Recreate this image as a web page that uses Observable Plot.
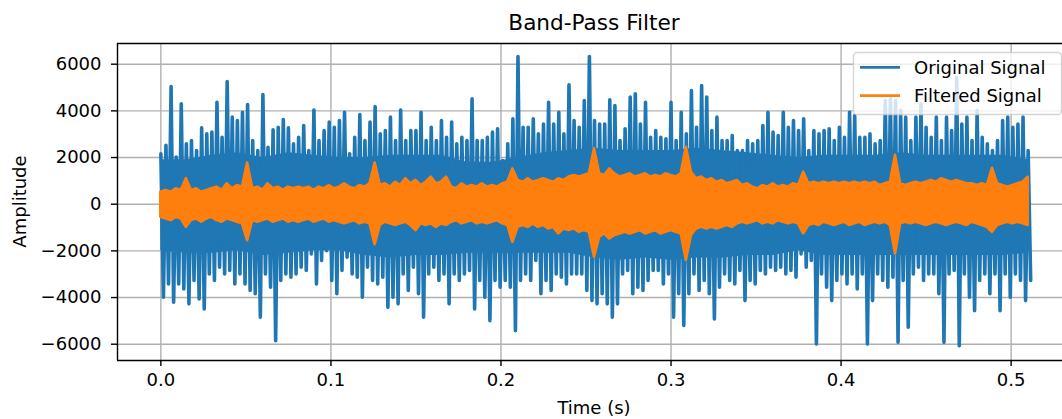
<!DOCTYPE html>
<html><head><meta charset="utf-8">
<script src="https://cdn.jsdelivr.net/npm/d3@7"></script>
<script src="https://cdn.jsdelivr.net/npm/@observablehq/plot@0.6"></script>
<style>
html,body{margin:0;padding:0;background:#fff;overflow:hidden;}
#chart{width:1062px;height:419px;overflow:hidden;position:relative;}
#chart svg{display:block;max-width:none !important;width:1080px !important;height:419px !important;}
</style></head><body><div id="chart"></div>
<script>
const title = "Band-Pass Filter";
const xLabel = "Time (s)";
const yLabel = "Amplitude";
const seriesNames = ["Original Signal", "Filtered Signal"];
const seriesColors = ["#1f77b4", "#ff7f0e"];
const xTicks = [0, 0.1, 0.2, 0.3, 0.4, 0.5];
const yTicks = [-6000, -4000, -2000, 0, 2000, 4000, 6000];
const binStep = 0.003;   // seconds between envelope readings
const coreStep = 0.015;  // seconds between readings of the dense core

// Original signal: peak (max) and trough (min) read in each 3 ms slice
const originalHigh = [
 2160, 2520, 5040, 2020, 4300, 2590, 2730, 2300, 3270, 3020, 3090, 4370, 2870, 5260, 3730, 3590, 3940, 4270, 2730, 2300, 4700, 2440, 3190, 3300, 3630, 3270, 2590, 2870,
 3370, 2300, 4040, 2730, 3160, 3520, 3300, 3590, 3940, 2160, 2870, 3840, 2730, 3520, 4190, 3020, 3160, 3730, 2730, 4040, 2730, 3160, 3160, 3940, 2730, 3300, 2730, 3590, 2870,
 3520, 2590, 2870, 2730, 4520, 2730, 2730, 2870, 3090, 3230, 1870, 2590, 3660, 6330, 3300, 3300, 3660, 3020, 3440, 4370, 3440, 3940, 3020, 5120, 3590, 3300, 4440, 6330, 3590, 3440,
 3440, 4470, 4230, 2730, 3230, 4590, 4730, 3440, 4370, 2870, 3160, 2870, 2800, 4370, 2730, 3940, 3020, 4870, 3300, 5090, 4590, 3160, 3730, 2730, 2730, 2940, 2300, 2300, 2730,
 2590, 2730, 3370, 3940, 3090, 2940, 3940, 3300, 3590, 3160, 3660, 2300, 3160, 3020, 3160, 3230, 2730, 3300, 2870, 3940, 3800, 2870, 2870, 3020, 2590, 2730, 4440, 4520, 4440, 4020,
 3730, 2730, 3730, 4300, 3300, 2870, 3730, 2730, 3730, 3160, 5440, 3440, 3730, 2730, 4020, 2870, 2590, 2300, 2730, 3590, 3730, 3300, 3440, 3730, 2300
];
const originalLow = [
 -3990, -3420, -4200, -3420, -3630, -4270, -3270, -4060, -4490, -2990, -3270, -2700, -2990, -2840, -3420, -2990, -3420, -3700, -3840, -4840, -2990, -3560, -5850, -3270, -2990, -3130, -2990, -2700,
 -2840, -2130, -3420, -2410, -1990, -3270, -3840, -2840, -2270, -2990, -3130, -3990, -2700, -3270, -3420, -3130, -4420, -3990, -4270, -2990, -3700, -2700, -3840, -4840, -2990, -2700, -3270, -2990, -4270,
 -2990, -3270, -2990, -2840, -4490, -3270, -3990, -4990, -3270, -3560, -3270, -3560, -5420, -3270, -2990, -3270, -2410, -3840, -3270, -3700, -2990, -3130, -3420, -2990, -2990, -2990, -3700, -4130, -4270, -3840,
 -4270, -4840, -4270, -2990, -2840, -3840, -3560, -3700, -3270, -2840, -2840, -3420, -2990, -4840, -3840, -5200, -3840, -2990, -3700, -3270, -3840, -4920, -3560, -2990, -3270, -3420, -2840, -4130, -3270,
 -3420, -2840, -2990, -2700, -2840, -2700, -2990, -2840, -3130, -2130, -2700, -2410, -5990, -2990, -3560, -4130, -3270, -2990, -3420, -2990, -3630, -2990, -5990, -4130, -2990, -3270, -3560, -3130, -5920, -3270,
 -5270, -2990, -2700, -3270, -2990, -2990, -3840, -5920, -2990, -2840, -6060, -2990, -3990, -4560, -3270, -2990, -3840, -2990, -4560, -2990, -3990, -2990, -3270, -4130, -3270
];
// Original signal: edges of the solid (densely filled) core, read every 15 ms
const originalCoreHigh = [1900, 1900, 2100, 2200, 2000, 2200, 2100, 2000, 2000, 2100, 2100, 2100, 1800, 1800, 2000, 2200, 2300, 2400, 2300, 2300, 2300, 2400, 2300, 2200, 2100, 2000, 2100, 2100, 2100, 2200, 2100, 2100, 2100, 2100, 1900];
const originalCoreLow = [-2000, -2100, -2100, -2000, -2200, -2100, -2000, -2000, -2200, -2300, -2200, -2200, -2100, -2100, -2100, -2100, -2100, -2300, -2400, -2300, -2400, -2300, -2300, -2200, -2200, -2000, -2200, -2200, -2200, -2200, -2200, -2200, -2200, -2200, -2100];

// Filtered signal: upper and lower edge read in each 3 ms slice
const filteredHigh = [
 510, 590, 510, 660, 590, 1090, 590, 660, 510, 590, 660, 730, 590, 870, 660, 800, 730, 1760, 660, 730, 590, 870, 660, 730, 590, 730, 660, 730,
 660, 730, 590, 730, 660, 800, 660, 730, 870, 730, 660, 800, 730, 870, 1760, 800, 870, 730, 940, 800, 1090, 870, 1020, 800, 940, 1160, 870, 940, 1160,
 730, 660, 870, 730, 800, 730, 870, 730, 800, 730, 870, 940, 1510, 1010, 940, 1090, 940, 1010, 1090, 1010, 940, 1090, 1010, 1160, 1230, 1160, 1230, 1300, 2370, 1300,
 1230, 1510, 1300, 1160, 1230, 1300, 1160, 1230, 1300, 1160, 1230, 1160, 1300, 1230, 1160, 1300, 2440, 1370, 1090, 1160, 1010, 1090, 940, 1010, 870, 940, 1010, 800, 870,
 730, 660, 800, 730, 870, 730, 800, 730, 870, 800, 1370, 870, 940, 870, 940, 870, 940, 870, 940, 870, 940, 870, 940, 870, 940, 800, 870, 940, 2090, 870,
 800, 870, 940, 870, 940, 1010, 940, 1090, 1010, 940, 1010, 940, 870, 870, 800, 870, 800, 1540, 870, 800, 730, 800, 870, 940, 1160
];
const filteredLow = [
 -560, -630, -700, -560, -630, -990, -700, -630, -770, -630, -560, -700, -770, -630, -700, -770, -840, -1560, -700, -770, -700, -630, -770, -700, -630, -770, -700, -770,
 -700, -630, -770, -700, -630, -770, -700, -770, -840, -770, -700, -840, -770, -840, -1730, -910, -770, -840, -910, -840, -770, -910, -1130, -840, -910, -840, -990, -840, -910,
 -770, -700, -840, -770, -700, -840, -770, -840, -770, -700, -840, -910, -1630, -990, -910, -990, -840, -990, -910, -1060, -990, -1270, -1060, -1130, -1060, -1200, -1130, -1200, -2270, -1410,
 -1270, -1490, -1340, -1270, -1200, -1270, -1200, -1130, -1270, -1200, -1130, -1270, -1200, -1130, -1200, -1270, -2410, -1340, -1060, -990, -1060, -990, -1060, -990, -910, -990, -840, -770, -840,
 -770, -700, -840, -770, -840, -700, -770, -840, -770, -840, -1270, -910, -840, -910, -770, -840, -910, -840, -770, -910, -840, -770, -910, -840, -770, -840, -770, -910, -2130, -840,
 -770, -840, -770, -840, -910, -840, -770, -840, -910, -840, -770, -840, -910, -770, -840, -910, -990, -1200, -910, -840, -770, -840, -770, -840, -910
];

// ---- build tables ----
const original = [];
originalHigh.forEach((v, i) => {
  original.push({t: i * binStep, v});
  original.push({t: i * binStep + binStep / 2, v: originalLow[i]});
});
const originalCore = originalCoreHigh.map((v, k) => ({t: k * coreStep, hi: v, lo: originalCoreLow[k]}));
const filtered = filteredHigh.map((v, i) => ({t: i * binStep, hi: v, lo: filteredLow[i]}));

// ---- layout ----
const W = 1080, H = 419;
const mL = 117, mR = 9, mT = 43, mB = 59;
const xDomain = [-0.0255, 0.5355];
const yDomain = [-6698, 6887];
const font = "DejaVu Sans, sans-serif";
const gridColor = "#b0b0b0";

const chart = Plot.plot({
  width: W, height: H,
  marginLeft: mL, marginRight: mR, marginTop: mT, marginBottom: mB,
  style: {fontFamily: font, fontSize: "18px", background: "white", color: "#000", maxWidth: "none"},
  x: {domain: xDomain},
  y: {domain: yDomain},
  marks: [
    Plot.gridX(xTicks, {stroke: gridColor, strokeOpacity: 1, strokeWidth: 1.4}),
    Plot.gridY(yTicks, {stroke: gridColor, strokeOpacity: 1, strokeWidth: 1.4}),
    Plot.areaY(originalCore, {x: "t", y1: "lo", y2: "hi", fill: seriesColors[0], curve: "linear"}),
    Plot.line(original, {x: "t", y: "v", stroke: seriesColors[0], strokeWidth: 3.6, strokeLinejoin: "round"}),
    Plot.areaY(filtered, {x: "t", y1: "lo", y2: "hi", fill: seriesColors[1], stroke: seriesColors[1], strokeWidth: 2.7, strokeLinejoin: "round"}),
    Plot.ruleX([xDomain[0]], {stroke: "#000", strokeWidth: 1.4}),
    Plot.ruleY(yDomain, {stroke: "#000", strokeWidth: 1.4}),
    Plot.axisX(xTicks, {tickSize: 6, tickPadding: 7, tickFormat: d3.format(".1f"), label: null, strokeWidth: 1.4, fontSize: 18}),
    Plot.axisY(yTicks, {tickSize: 6, tickPadding: 10, tickFormat: d3.format("d"), label: null, strokeWidth: 1.4, fontSize: 18})
  ]
});
document.getElementById("chart").appendChild(chart);

// ---- title, axis labels, legend ----
const svg = d3.select(chart);
const cx = (mL + (W - mR)) / 2;
const cy = (mT + (H - mB)) / 2;
svg.append("text").attr("x", cx).attr("y", 30).attr("text-anchor", "middle")
  .attr("font-family", font).attr("font-size", 21.6).attr("fill", "#000").text(title);
svg.append("text").attr("x", cx).attr("y", 414).attr("text-anchor", "middle")
  .attr("font-family", font).attr("font-size", 18).attr("fill", "#000").text(xLabel);
svg.append("text").attr("transform", `translate(26,${cy}) rotate(-90)`).attr("text-anchor", "middle")
  .attr("font-family", font).attr("font-size", 18).attr("fill", "#000").text(yLabel);

const lg = svg.append("g");
lg.append("rect").attr("x", 853.5).attr("y", 52.5).attr("width", 208).attr("height", 62).attr("rx", 3.6)
  .attr("fill", "#fff").attr("fill-opacity", 0.8).attr("stroke", "#cccccc").attr("stroke-opacity", 0.8).attr("stroke-width", 1.4);
const rowY = [67.3, 95.7];
seriesNames.forEach((name, k) => {
  lg.append("line").attr("x1", 860).attr("x2", 900).attr("y1", rowY[k]).attr("y2", rowY[k])
    .attr("stroke", seriesColors[k]).attr("stroke-width", 2.7);
  lg.append("text").attr("x", 914).attr("y", rowY[k] + 6.6).attr("text-anchor", "start").attr("font-family", font).attr("font-size", 18)
    .attr("fill", "#000").text(name);
});
</script></body></html>
